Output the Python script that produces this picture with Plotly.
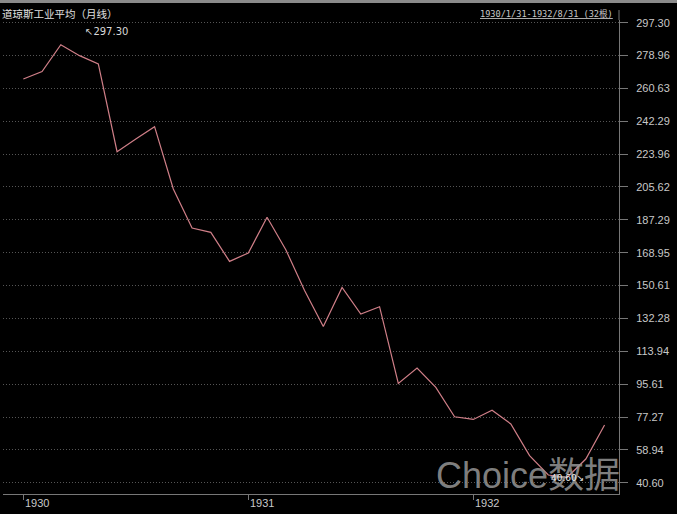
import plotly.graph_objects as go

months = list(range(32))  # Jan 1930 .. Aug 1932, monthly
values = [265.9, 270.0, 285.0, 278.9, 274.3, 225.3, 232.4, 239.3, 204.5, 182.7, 180.3, 164.1,
          168.8, 188.7, 170.6, 147.9, 127.8, 149.6, 134.7, 138.8, 96.0, 104.6, 93.8, 77.4,
          75.9, 81.0, 73.4, 55.7, 44.9, 43.5, 53.8, 72.8]
year_ticks = [0, 12, 24]
year_labels = ["1930", "1931", "1932"]
y_ticks = [40.60, 58.94, 77.27, 95.61, 113.94, 132.28, 150.61, 168.95, 187.29,
           205.62, 223.96, 242.29, 260.63, 278.96, 297.30]
y_labels = [f"{v:.2f}" for v in y_ticks]
title_text = "道琼斯工业平均（月线）"
range_text = "1930/1/31-1932/8/31 (32根)"
high_label = "↖297.30"
low_label = "40.60↘"
watermark = "Choice数据"

fig = go.Figure()
fig.add_trace(go.Scatter(x=months, y=values, mode="lines",
                         line=dict(color="#d07f88", width=1.2), hoverinfo="skip"))

fig.update_layout(
    width=677, height=514,
    margin=dict(l=3, r=58, t=20, b=20),
    paper_bgcolor="#000000", plot_bgcolor="#000000",
    showlegend=False,
    font=dict(family="Liberation Sans, Arial, sans-serif", color="#c8c8c8", size=11),
    xaxis=dict(range=[-1.083, 31.77], tickvals=year_ticks, ticktext=year_labels,
               showticklabels=False,
               showgrid=False, zeroline=False, showline=True, linecolor="#777777", linewidth=1,
               ticks="outside", ticklen=5, tickcolor="#777777", tickwidth=1,
               fixedrange=True),
    yaxis=dict(range=[34.3, 298.8], side="right", tickvals=y_ticks, ticktext=y_labels,
               showgrid=True, gridcolor="#555555", griddash="1px,2px", gridwidth=1,
               zeroline=False, showline=True, linecolor="#777777", linewidth=1,
               ticks="outside", ticklen=8, tickcolor="#777777", tickwidth=1,
               ticklabelstandoff=6,
               tickfont=dict(size=11, color="#c8c8c8"), fixedrange=True),
)

for xv, lab in zip(year_ticks, year_labels):
    fig.add_annotation(x=xv, xref="x", yref="paper", y=0, xanchor="left", yanchor="middle",
                       xshift=0, yshift=-9, text=lab, showarrow=False,
                       font=dict(size=11, color="#c8c8c8"))

# top thin strip
fig.add_shape(type="rect", xref="paper", yref="paper", x0=-0.01, x1=1.2, y0=1.0 + 17/474, y1=1.0 + 21/474,
              line=dict(width=0), fillcolor="#8a8a8a", layer="above")
# axis separator continues into header
fig.add_shape(type="line", xref="paper", yref="paper", x0=1, x1=1, y0=1, y1=1 + 10/474,
              line=dict(color="#777777", width=1))

fig.add_annotation(xref="paper", yref="paper", x=-3/616, y=1 + 7/474, xanchor="left", yanchor="middle",
                   text=title_text, showarrow=False,
                   font=dict(size=10.5, color="#e0e0e0", family="Noto Sans CJK SC, sans-serif"))
fig.add_annotation(xref="paper", yref="paper", x=1 - 4/616, y=1 + 7/474, xanchor="right", yanchor="middle",
                   text="<u>" + range_text + "</u>", showarrow=False,
                   font=dict(size=8.6, color="#c8c8c8", family="DejaVu Sans Mono, Noto Sans CJK SC, monospace"))

fig.add_annotation(x=months[2], y=values[2], xanchor="left", yanchor="middle", xshift=22, yshift=13,
                   text=high_label, showarrow=False,
                   font=dict(size=10, color="#d8d8d8", family="DejaVu Sans, sans-serif"))

fig.add_annotation(xref="paper", yref="paper", x=(528 - 3) / 616, y=(494 - 475) / 474,
                   xanchor="center", yanchor="middle", text=watermark, showarrow=False,
                   font=dict(size=36, color="rgba(150,150,150,0.85)",
                             family="Liberation Sans, Noto Sans CJK SC, sans-serif"))

fig.add_annotation(x=months[29], y=values[29], xanchor="center", yanchor="middle", yshift=0,
                   text=low_label, showarrow=False,
                   font=dict(size=9, color="#e8e8e8", family="DejaVu Sans, sans-serif"))

fig.write_html("out.html", config={"displayModeBar": False},
               post_script="document.body.style.margin='0';document.body.style.overflow='hidden';")
